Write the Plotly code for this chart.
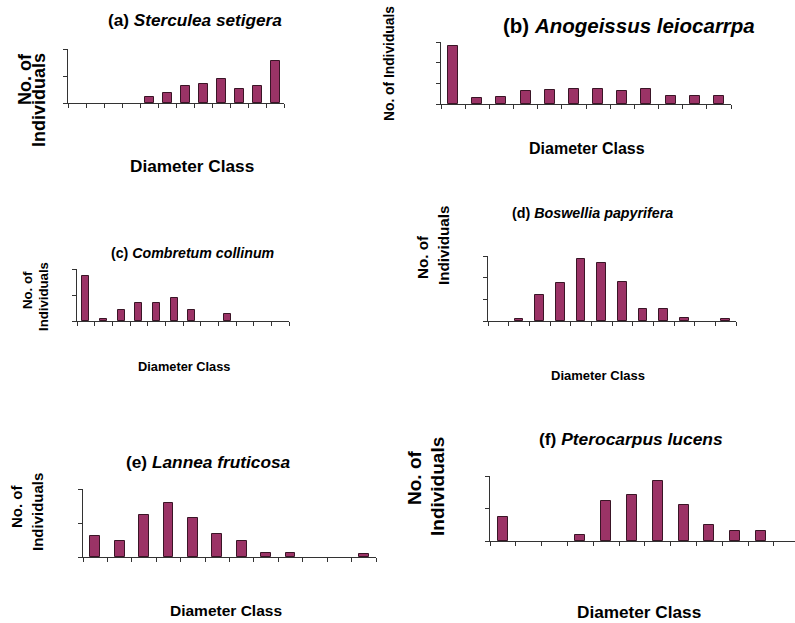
import plotly.graph_objects as go

W, H = 795, 623

# ---- data (y units are relative, tick labels hidden) ----
classes = [str(i) for i in range(1, 13)]
a_vals = [0, 0, 0, 0, 2.1, 3.8, 6.4, 7.0, 8.9, 5.2, 6.4, 15.7]
b_vals = [28.1, 2.7, 3.2, 6.5, 6.9, 7.3, 7.3, 6.5, 7.3, 3.7, 3.7, 3.7]
c_vals = [17.4, 0.9, 4.2, 7.0, 7.0, 8.8, 4.2, 0, 2.7, 0, 0, 0]
d_vals = [0, 0.8, 12.2, 17.5, 28.8, 26.8, 18.1, 5.4, 5.4, 1.4, 0, 0.8]
e_vals = [6.1, 4.8, 12.4, 15.8, 11.5, 6.7, 4.8, 1.3, 1.3, 0, 0, 1.0]
f_vals = [7.3, 0, 0, 1.9, 12.3, 14.1, 18.5, 11.0, 5.0, 3.2, 3.2, 0]

titles = ["(a) <i>Sterculea setigera</i>", "(b) <i>Anogeissus leiocarrpa</i>",
          "(c) <i>Combretum collinum</i>", "(d) <i>Boswellia papyrifera</i>",
          "(e) <i>Lannea fruticosa</i>", "(f) <i>Pterocarpus lucens</i>"]
xtitle = "Diameter Class"

BAR = "#9b3366"
EDGE = "#3a1526"
AX = "#333333"
ARIAL = "Liberation Sans, Arial, sans-serif"

def fx(px):
    return px / W

def fy(py):
    return 1 - py / H

# panel layout: (x0, x1, ytop, ybot, ymax, xmax, barwidth, values)
panels = [
    (68, 284, 49, 103, 20, 11.5, 0.50, a_vals),
    (441, 731, 42, 104, 30, 11.5, 0.42, b_vals),
    (77, 289, 269, 321, 20, 11.5, 0.38, c_vals),
    (488, 736, 256, 321, 30, 11.5, 0.43, d_vals),
    (83, 376, 489, 557, 20, 11.5, 0.40, e_vals),
    (490, 795, 476, 541, 20, 11.32, 0.39, f_vals),
]

fig = go.Figure()
layout = {}
for i, (x0, x1, yt, yb, ymax, xmax, bw, vals) in enumerate(panels):
    n = i + 1
    xa = "x" if n == 1 else f"x{n}"
    ya = "y" if n == 1 else f"y{n}"
    fig.add_trace(go.Bar(
        x=list(range(len(classes))), y=[v if v > 0 else None for v in vals],
        width=bw, xaxis=xa, yaxis=ya,
        marker=dict(color=BAR, line=dict(color=EDGE, width=1)),
        showlegend=False, hoverinfo="skip"))
    xk = "xaxis" if n == 1 else f"xaxis{n}"
    yk = "yaxis" if n == 1 else f"yaxis{n}"
    layout[xk] = dict(domain=[fx(x0), fx(x1)], anchor=ya, range=[-0.5, xmax],
                      showline=True, linecolor=AX, linewidth=1,
                      ticks="outside", ticklen=4, tickcolor=AX, tickwidth=1,
                      tickvals=[k - 0.5 for k in range(len(classes) + 1)],
                      showticklabels=False, showgrid=False, zeroline=False,
                      fixedrange=True)
    layout[yk] = dict(domain=[fy(yb), fy(yt)], anchor=xa, range=[0, ymax],
                      showline=True, linecolor=AX, linewidth=1,
                      ticks="outside", ticklen=4, tickcolor=AX, tickwidth=1,
                      dtick=10, showticklabels=False, showgrid=False,
                      zeroline=False, fixedrange=True)

ann = []

def txt(text, x, y, size, angle=0):
    ann.append(dict(text=f"<b>{text}</b>", x=fx(x), y=fy(y), xref="paper", yref="paper",
                    xanchor="center", yanchor="middle", showarrow=False, textangle=angle,
                    font=dict(family=ARIAL, size=size, color="#000000")))

# titles
txt(titles[0], 195, 20, 17.2)
txt(titles[1], 629, 25, 20.5)
txt(titles[2], 193, 253, 14.2)
txt(titles[3], 592, 213, 14.3)
txt(titles[4], 208, 462, 17.3)
txt(titles[5], 631, 439, 17.4)

# x titles
txt(xtitle, 192, 166, 17.2)
txt(xtitle, 587, 148, 16)
txt(xtitle, 184, 366, 12.8)
txt(xtitle, 598, 375, 13)
txt(xtitle, 226, 610, 15.5)
txt(xtitle, 639, 612, 17.2)

# y titles
txt("No. of", 25, 79, 18, -90)
txt("Individuals", 39, 100, 18, -90)
txt("No. of Individuals", 389, 64, 13.8, -90)
txt("No. of", 27, 290, 13.2, -90)
txt("Individuals", 43, 297, 13.2, -90)
txt("No. of", 423, 257, 15.2, -90)
txt("Individuals", 444, 246, 15.2, -90)
txt("No. of", 16, 507, 15, -90)
txt("Individuals", 37, 512, 15, -90)
txt("No. of", 414, 478, 19, -90)
txt("Individuals", 437, 487, 19, -90)

fig.update_layout(width=W, height=H, margin=dict(l=0, r=0, t=0, b=0),
                  paper_bgcolor="white", plot_bgcolor="white",
                  annotations=ann, bargap=0, **layout)

fig.write_html("out.html", config={"displayModeBar": False})
